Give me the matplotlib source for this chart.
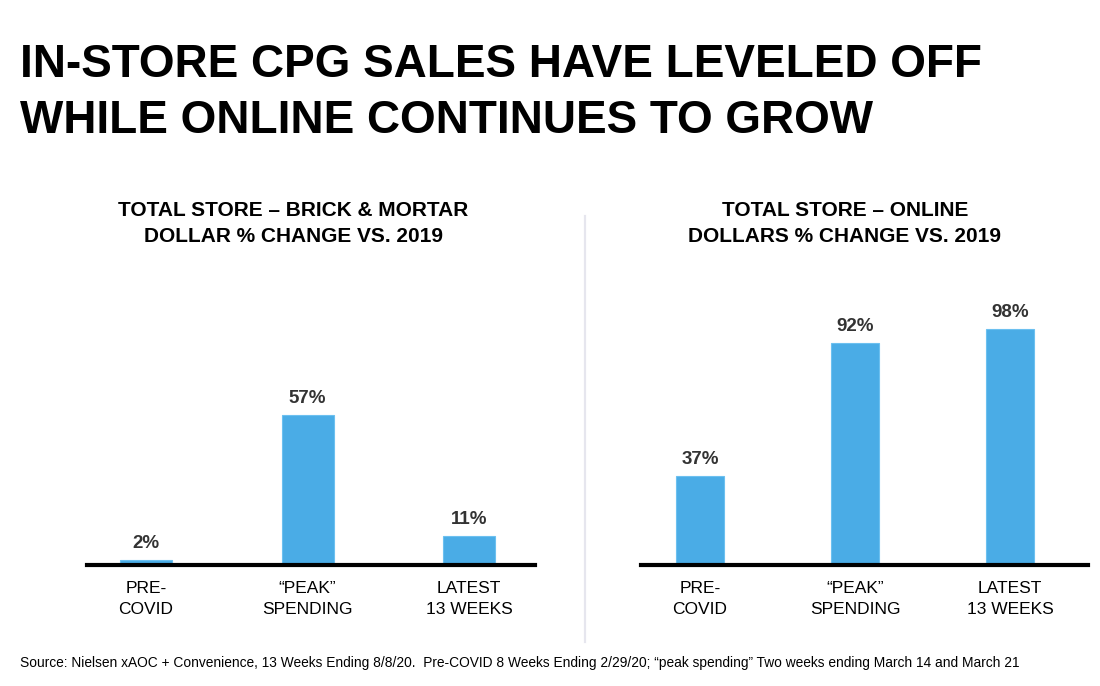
import matplotlib
matplotlib.use("Agg")
import matplotlib.pyplot as plt
from matplotlib import font_manager
from matplotlib.lines import Line2D

# ---------------- data ----------------
categories = ["PRE-\nCOVID", "\u201cPEAK\u201d\nSPENDING", "LATEST\n13 WEEKS"]
brick_values = [2, 57, 11]
online_values = [37, 92, 98]
brick_labels = ["2%", "57%", "11%"]
online_labels = ["37%", "92%", "98%"]

title_lines = ["IN-STORE CPG SALES HAVE LEVELED OFF",
               "WHILE ONLINE CONTINUES TO GROW"]
brick_title = ["TOTAL STORE \u2013 BRICK & MORTAR", "DOLLAR % CHANGE VS. 2019"]
online_title = ["TOTAL STORE \u2013 ONLINE", "DOLLARS % CHANGE VS. 2019"]
source_text = ("Source: Nielsen xAOC + Convenience, 13 Weeks Ending 8/8/20.  "
               "Pre-COVID 8 Weeks Ending 2/29/20; \u201cpeak spending\u201d "
               "Two weeks ending March 14 and March 21")

# ---------------- style ----------------
names = {f.name for f in font_manager.fontManager.ttflist}
MAIN = "Liberation Sans" if "Liberation Sans" in names else "DejaVu Sans"
plt.rcParams["font.family"] = [MAIN, "DejaVu Sans"]

BAR = "#4aace6"
W, H = 1100, 686
fig = plt.figure(figsize=(W / 100, H / 100), dpi=100)
fig.patch.set_facecolor("white")


def fx(px):
    return px / W


def fy(py):
    return (H - py) / H


# title
for line, base in zip(title_lines, [77, 133]):
    fig.text(fx(20), fy(base), line, fontsize=33, fontweight="bold",
             va="baseline", ha="left", color="black")

# panel subtitles
for cx, lines in [(293, brick_title), (845, online_title)]:
    for line, base in zip(lines, [216.5, 241.5]):
        fig.text(fx(cx), fy(base), line, fontsize=15, fontweight="bold",
                 ha="center", va="baseline", color="black")

# divider
fig.add_artist(Line2D([fx(585), fx(585)], [fy(216), fy(642)],
                      transform=fig.transFigure, color="#e6e6ee", lw=1.6))

bottom_px, top_px = 565, 265


def panel(x0, x1, centers_px, px_per_unit, values, labels, bar_px):
    spacing = centers_px[1] - centers_px[0]
    ax = fig.add_axes([fx(x0), fy(bottom_px), fx(x1) - fx(x0),
                       (bottom_px - top_px) / H])
    xs = list(range(len(values)))
    ax.bar(xs, values, width=bar_px / spacing, color=BAR,
           edgecolor="#6cc0f0", linewidth=0.8, zorder=2)
    ax.set_xlim(-(centers_px[0] - x0) / spacing,
                len(values) - 1 + (x1 - centers_px[-1]) / spacing)
    ax.set_ylim(0, (bottom_px - top_px) / px_per_unit)
    for s in ["top", "left", "right"]:
        ax.spines[s].set_visible(False)
    ax.spines["bottom"].set_linewidth(3)
    ax.spines["bottom"].set_color("black")
    ax.spines["bottom"].set_zorder(3)
    ax.set_yticks([])
    ax.set_xticks(xs)
    ax.set_xticklabels(categories, fontsize=12.5, linespacing=1.5)
    ax.tick_params(axis="x", length=0, pad=11.3)
    for x, v, lab in zip(xs, values, labels):
        ax.annotate(lab, (x, v), xytext=(0, 8.5), textcoords="offset points",
                    ha="center", va="baseline", fontsize=13.5,
                    fontweight="bold", color="#333333")
    ax.patch.set_alpha(0)
    return ax


panel(87, 535, [146, 307.5, 469], 2.63, brick_values, brick_labels, 52)
panel(641, 1088, [700, 855, 1010], 2.41, online_values, online_labels, 48)

# source
fig.text(fx(20), fy(667), source_text, fontsize=9.9,
         ha="left", va="baseline", color="black")

fig.savefig("out.png", dpi=100, facecolor="white")
